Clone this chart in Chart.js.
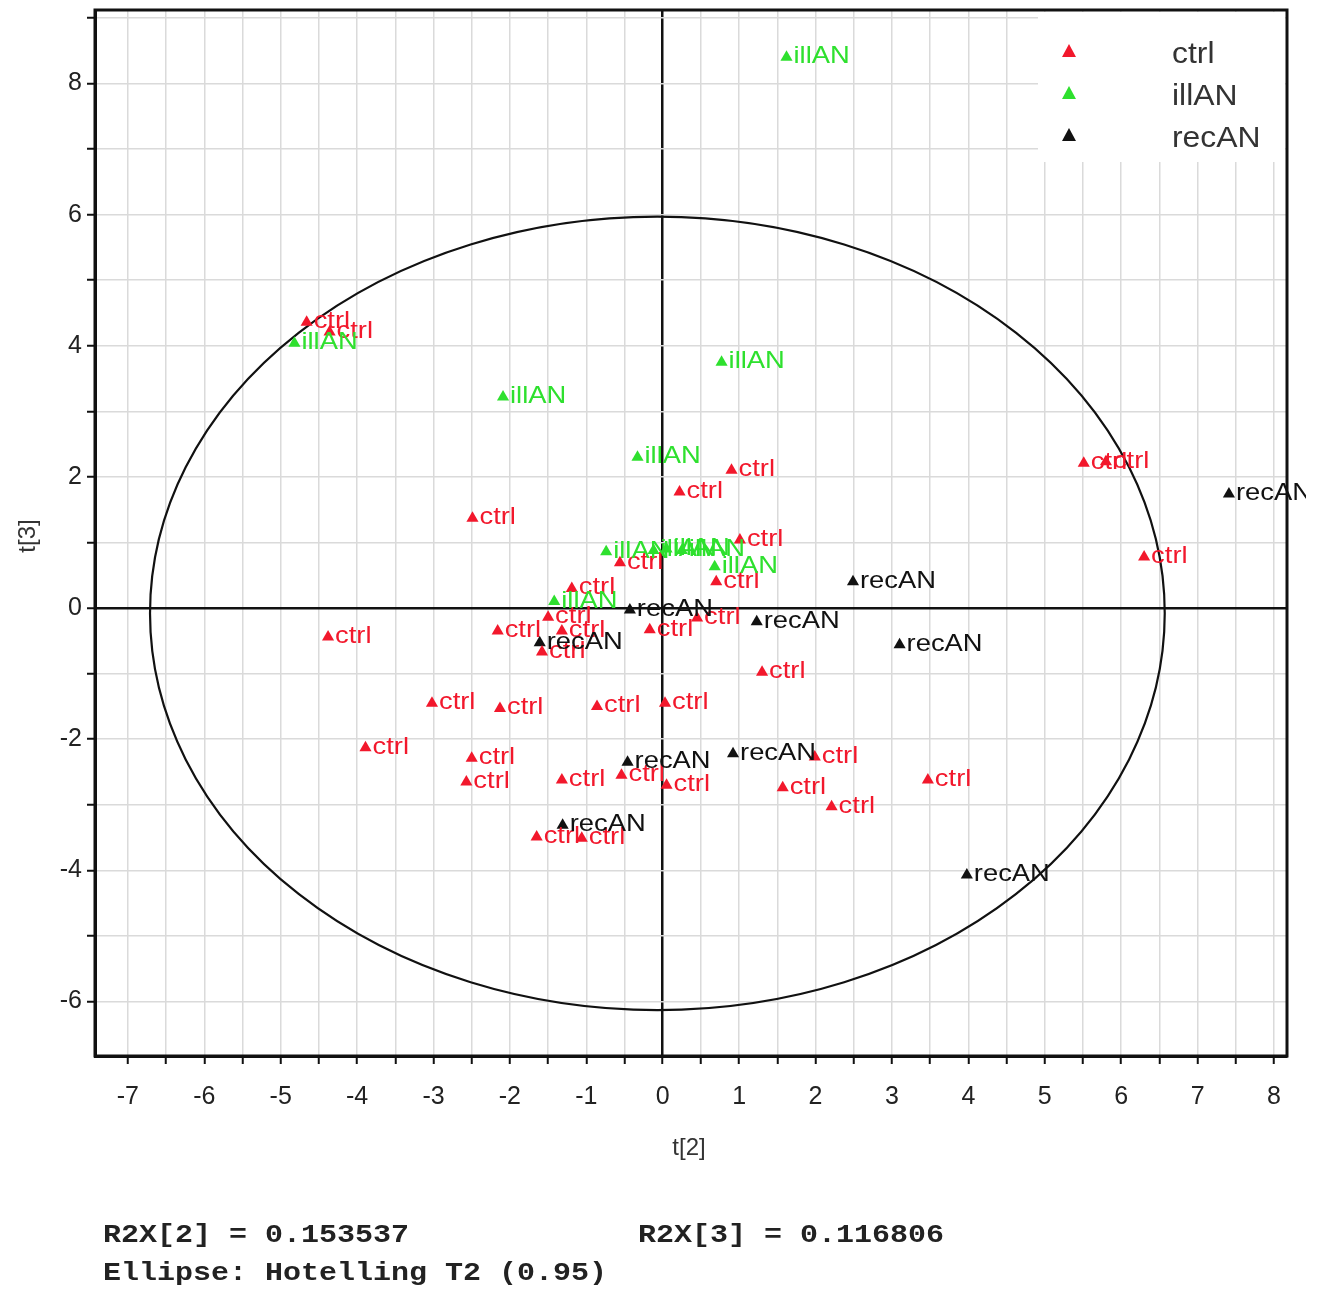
<!DOCTYPE html>
<html>
<head>
<meta charset="utf-8">
<script src="https://cdn.jsdelivr.net/npm/chart.js@4.4.1/dist/chart.umd.min.js"></script>
<style>
  body { margin: 0; background: #fff; }
  #wrap { width: 1335px; height: 1290px; }
</style>
</head>
<body>
<div id="wrap"><canvas id="scores"></canvas></div>
<script>
// score values, t[2] and t[3] per group
const ctrlT2 = [-4.66, -4.36, -2.49, 0.90, 0.22, 1.01, -0.56, 0.70, -1.19, -1.50, -0.17, 0.45, -2.16, -1.32, -1.58, 1.30,
  -4.38, -3.02, -2.13, -0.86, 0.03, -3.89, -2.50, -2.57, -1.32, -0.54, 0.05, -1.65, -1.06, 1.99, 1.57, 2.21, 3.47,
  5.51, 5.80, 6.30];
const ctrlT3 = [4.36, 4.21, 1.37, 2.10, 1.77, 1.04, 0.69, 0.40, 0.30, -0.14, -0.33, -0.15, -0.35, -0.35, -0.67, -0.98,
  -0.44, -1.45, -1.53, -1.50, -1.45, -2.13, -2.29, -2.65, -2.62, -2.55, -2.70, -3.49, -3.51, -2.27, -2.74, -3.03, -2.62,
  2.21, 2.23, 0.78];

const illT2 = [1.62, 0.77, -2.09, -4.82, -0.33, -0.74, -0.12, 0.05, 0.25, 0.68, -1.42];
const illT3 = [8.40, 3.75, 3.22, 4.04, 2.30, 0.86, 0.88, 0.90, 0.88, 0.63, 0.10];

const recT2 = [-0.43, 1.23, -1.61, 3.10, 2.49, 7.41, 0.92, -0.46, -1.31, 3.98];
const recT3 = [-0.03, -0.21, -0.53, -0.56, 0.40, 1.74, -2.22, -2.35, -3.31, -4.07];

const groups = ['ctrl', 'illAN', 'recAN'];
const groupColors = ['#f2182c', '#2ee02e', '#111111'];

const xRange = [-7.43, 8.17];
const yRange = [-6.83, 9.12];

// Hotelling T2 (0.95) ellipse: centre and half axes in score units
const ellipseCentre = [-0.07, -0.08];
const ellipseRadii = [6.64, 6.05];

const footerLines = [
  ['R2X[2] = 0.153537', 'R2X[3] = 0.116806'],
  ['Ellipse: Hotelling T2 (0.95)', '']
];

function pairs(xs, ys) {
  return xs.map((x, i) => ({ x: x, y: ys[i] }));
}

const isInt = v => Math.abs(v - Math.round(v)) < 1e-6;

const backdrop = {
  id: 'backdrop',
  beforeDraw(chart) {
    const ctx = chart.ctx;
    ctx.save();
    ctx.fillStyle = '#fff';
    ctx.fillRect(0, 0, chart.width, chart.height);
    ctx.restore();
  }
};

const ellipse = {
  id: 'ellipse',
  beforeDatasetsDraw(chart) {
    const { ctx, scales: { x, y } } = chart;
    const cx = x.getPixelForValue(ellipseCentre[0]);
    const cy = y.getPixelForValue(ellipseCentre[1]);
    const rx = x.getPixelForValue(ellipseCentre[0] + ellipseRadii[0]) - cx;
    const ry = cy - y.getPixelForValue(ellipseCentre[1] + ellipseRadii[1]);
    ctx.save();
    ctx.strokeStyle = '#111';
    ctx.lineWidth = 2.2;
    ctx.beginPath();
    ctx.ellipse(cx, cy, rx, ry, 0, 0, Math.PI * 2);
    ctx.stroke();
    ctx.restore();
  }
};

const pointLabels = {
  id: 'pointLabels',
  afterDatasetsDraw(chart) {
    const ctx = chart.ctx;
    ctx.save();
    ctx.beginPath();
    ctx.rect(0, 0, 1306, chart.height);
    ctx.clip();
    ctx.font = '24px "Liberation Sans", Arial, sans-serif';
    ctx.textBaseline = 'alphabetic';
    chart.data.datasets.forEach((ds, di) => {
      const meta = chart.getDatasetMeta(di);
      ctx.fillStyle = ds.backgroundColor;
      meta.data.forEach(pt => {
        ctx.save();
        ctx.translate(pt.x + 7, pt.y + 6);
        ctx.scale(1.14, 1);
        ctx.fillText(ds.label, 0, 0);
        ctx.restore();
      });
    });
    ctx.restore();
  }
};

const frame = {
  id: 'frame',
  afterDraw(chart) {
    const { ctx, chartArea: a } = chart;
    ctx.save();
    ctx.strokeStyle = '#111';
    ctx.lineWidth = 3;
    ctx.strokeRect(a.left, a.top, a.right - a.left, a.bottom - a.top);

    // legend box
    ctx.fillStyle = '#fff';
    ctx.fillRect(1038, a.top + 2, a.right - 1040, 150);
    chart.data.datasets.forEach((ds, i) => {
      const cy = 52 + i * 42;
      ctx.fillStyle = ds.backgroundColor;
      ctx.beginPath();
      ctx.moveTo(1069, cy - 8);
      ctx.lineTo(1076, cy + 5);
      ctx.lineTo(1062, cy + 5);
      ctx.closePath();
      ctx.fill();
      ctx.save();
      ctx.fillStyle = '#333';
      ctx.font = '29px "Liberation Sans", Arial, sans-serif';
      ctx.textBaseline = 'middle';
      ctx.translate(1172, cy + 3);
      ctx.scale(1.1, 1);
      ctx.fillText(ds.label, 0, 0);
      ctx.restore();
    });

    // axis titles
    ctx.fillStyle = '#333';
    ctx.font = '24px "Liberation Sans", Arial, sans-serif';
    ctx.textAlign = 'center';
    ctx.textBaseline = 'middle';
    ctx.fillText('t[2]', (a.left + a.right) / 2 - 2, 1148);
    ctx.save();
    ctx.translate(28, 536);
    ctx.rotate(-Math.PI / 2);
    ctx.fillText('t[3]', 0, 0);
    ctx.restore();

    // footer
    ctx.textAlign = 'left';
    ctx.textBaseline = 'alphabetic';
    ctx.fillStyle = '#222';
    ctx.font = 'bold 25px "Liberation Mono", "Courier New", monospace';
    footerLines.forEach((row, r) => {
      [103, 638].forEach((fx, c) => {
        if (!row[c]) return;
        ctx.save();
        ctx.translate(fx, 1242 + r * 38);
        ctx.scale(1.2, 1);
        ctx.fillText(row[c], 0, 0);
        ctx.restore();
      });
    });
    ctx.restore();
  }
};

const gridColor = ctx => (ctx.tick && ctx.tick.value === 0 ? '#111' : '#dadada');
const gridWidth = ctx => (ctx.tick && ctx.tick.value === 0 ? 2.5 : 1.5);
const tickFont = { family: '"Liberation Sans", Arial, sans-serif', size: 25 };

new Chart(document.getElementById('scores'), {
  type: 'scatter',
  data: {
    datasets: [
      { label: groups[0], data: pairs(ctrlT2, ctrlT3), backgroundColor: groupColors[0] },
      { label: groups[1], data: pairs(illT2, illT3), backgroundColor: groupColors[1] },
      { label: groups[2], data: pairs(recT2, recT3), backgroundColor: groupColors[2] }
    ]
  },
  options: {
    responsive: true,
    maintainAspectRatio: false,
    animation: false,
    layout: { padding: { top: 10, right: 48, left: 0, bottom: 0 } },
    elements: {
      point: { pointStyle: 'triangle', radius: 7, borderWidth: 0, hoverRadius: 7 }
    },
    plugins: {
      legend: { display: false },
      tooltip: { enabled: false }
    },
    scales: {
      x: {
        type: 'linear',
        min: xRange[0],
        max: xRange[1],
        afterFit(s) { s.height = 234; s.paddingLeft = 0; s.paddingRight = 0; },
        ticks: {
          stepSize: 0.5,
          includeBounds: false,
          autoSkip: false,
          maxRotation: 0,
          padding: 18,
          color: '#222',
          font: tickFont,
          callback: v => (isInt(v) ? String(Math.round(v)) : '')
        },
        grid: { color: gridColor, lineWidth: gridWidth, tickColor: '#111', tickLength: 8, tickWidth: 2 },
        border: { color: '#111', width: 3 }
      },
      y: {
        type: 'linear',
        min: yRange[0],
        max: yRange[1],
        afterFit(s) { s.width = 95; s.paddingTop = 0; s.paddingBottom = 0; },
        ticks: {
          stepSize: 1,
          includeBounds: false,
          autoSkip: false,
          padding: 5,
          color: '#222',
          font: tickFont,
          callback: v => (isInt(v) && Math.round(v) % 2 === 0 ? String(Math.round(v)) : '')
        },
        grid: { color: gridColor, lineWidth: gridWidth, tickColor: '#111', tickLength: 8, tickWidth: 2 },
        border: { color: '#111', width: 3 }
      }
    }
  },
  plugins: [backdrop, ellipse, pointLabels, frame]
});
</script>
</body>
</html>
